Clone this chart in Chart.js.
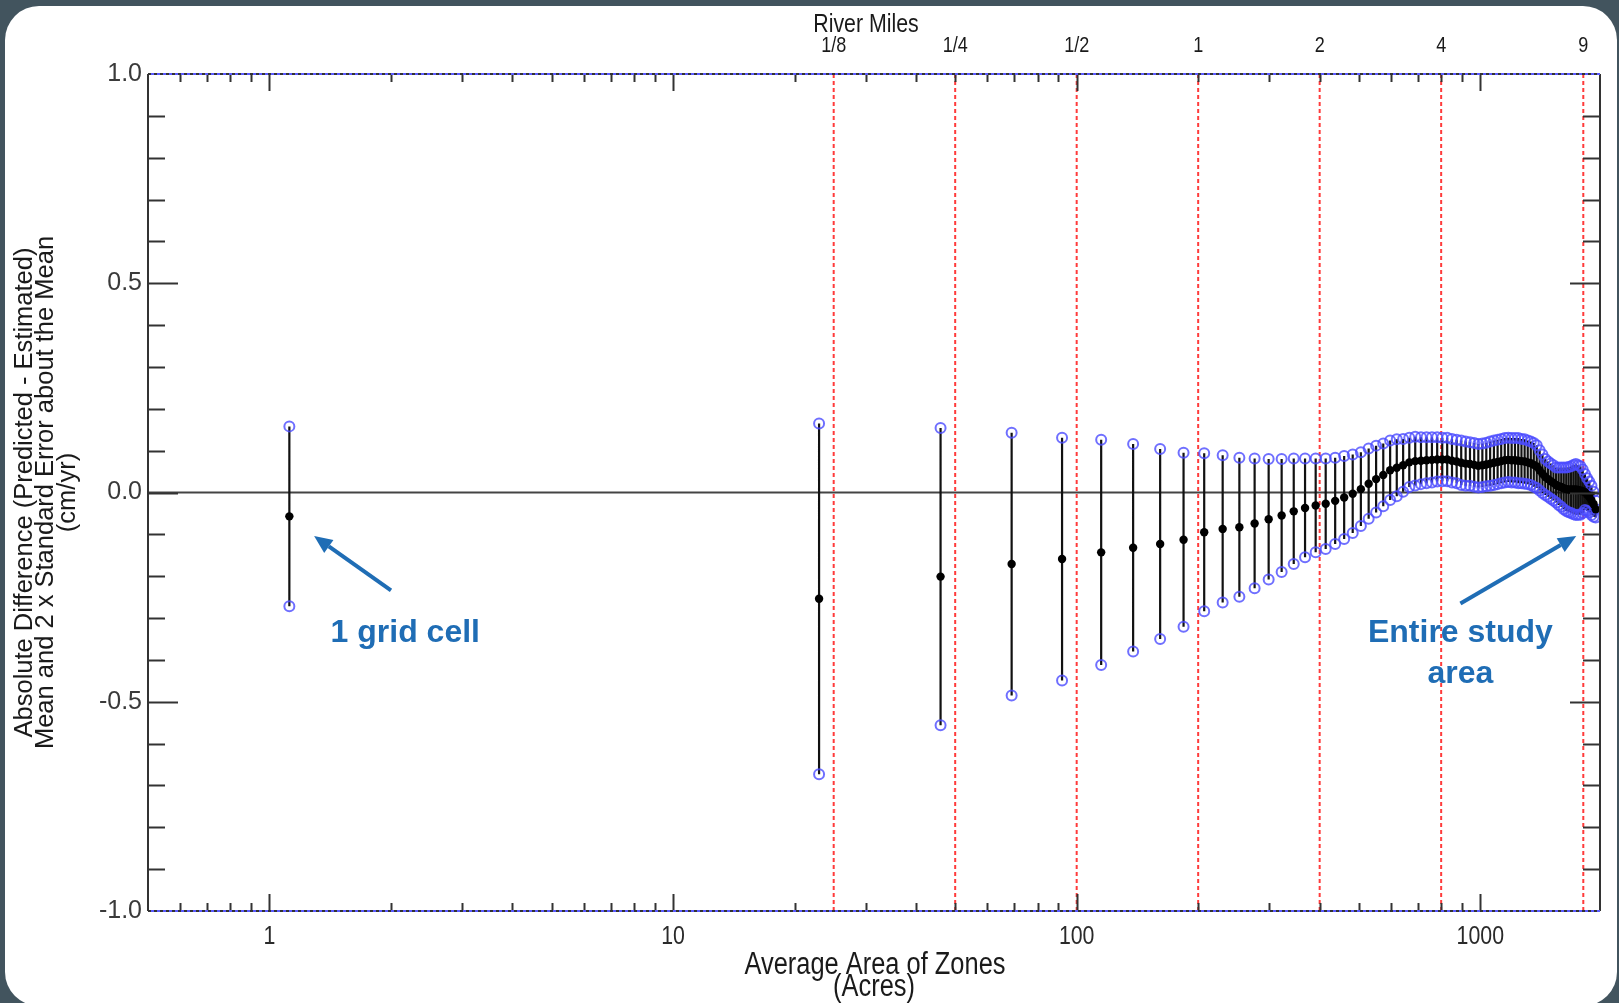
<!DOCTYPE html>
<html>
<head>
<meta charset="utf-8">
<script src="https://cdn.jsdelivr.net/npm/chart.js@4.4.1/dist/chart.umd.min.js"></script>
<style>
  html, body { margin: 0; padding: 0; width: 1619px; height: 1003px; overflow: hidden; background: #42545e; }
  #panel { position: absolute; left: 5px; top: 6px; width: 1612px; height: 1000px; background: #fff; border-radius: 34px; }
  #c { position: absolute; left: 0; top: 0; }
</style>
</head>
<body>
<div id="panel"></div>
<canvas id="c" width="1619" height="1003"></canvas>
<script>
// --- Data ---

// average zone area (acres); first entry is the single grid cell
const zoneAcres = [
  1.12, 23, 46, 69, 92, 115, 138, 161, 184, 207, 230, 253, 276, 299, 322, 345, 368, 391, 414, 437,
  460, 483, 506, 529, 552, 575, 598, 621, 644, 667, 690, 713, 736, 759, 782, 805, 828, 851, 874, 897,
  920, 943, 966, 989, 1012, 1035, 1058, 1081, 1104, 1127, 1150, 1173, 1196, 1219, 1242, 1265, 1288, 1311, 1334, 1357,
  1380, 1403, 1426, 1449, 1472, 1495, 1518, 1541, 1564, 1587, 1610, 1633, 1656, 1679, 1702, 1725, 1748, 1771, 1794, 1817,
  1840, 1863, 1886, 1909, 1932
];

// mean absolute difference (cm/yr)
const meanDiff = [
  -0.057, -0.254, -0.201, -0.171, -0.159, -0.143, -0.132, -0.123, -0.113, -0.095, -0.087, -0.083, -0.074, -0.064, -0.055, -0.045, -0.037, -0.031, -0.027, -0.020,
  -0.012, -0.003, 0.008, 0.021, 0.032, 0.042, 0.053, 0.059, 0.065, 0.072, 0.075, 0.076, 0.077, 0.078, 0.079, 0.079, 0.079, 0.076, 0.074, 0.071,
  0.069, 0.068, 0.066, 0.064, 0.065, 0.067, 0.069, 0.071, 0.073, 0.075, 0.077, 0.078, 0.077, 0.077, 0.076, 0.075, 0.074, 0.072, 0.070, 0.066,
  0.062, 0.053, 0.045, 0.037, 0.032, 0.027, 0.023, 0.018, 0.015, 0.013, 0.010, 0.008, 0.007, 0.007, 0.007, 0.007, 0.006, 0.005, 0.003, 0.001,
  -0.005, -0.011, -0.019, -0.028, -0.040
];

// 2 x standard error about the mean
const twoSE = [
  0.215, 0.419, 0.355, 0.314, 0.290, 0.269, 0.248, 0.227, 0.208, 0.189, 0.176, 0.166, 0.155, 0.144, 0.135, 0.126, 0.118, 0.112, 0.108, 0.103,
  0.099, 0.094, 0.088, 0.084, 0.080, 0.075, 0.071, 0.068, 0.063, 0.059, 0.058, 0.056, 0.055, 0.054, 0.053, 0.052, 0.052, 0.052, 0.052, 0.053,
  0.053, 0.052, 0.052, 0.052, 0.052, 0.052, 0.053, 0.053, 0.053, 0.053, 0.053, 0.053, 0.053, 0.053, 0.054, 0.053, 0.053, 0.052, 0.052, 0.052,
  0.051, 0.048, 0.046, 0.043, 0.042, 0.042, 0.042, 0.042, 0.045, 0.047, 0.050, 0.052, 0.054, 0.056, 0.059, 0.061, 0.059, 0.058, 0.052, 0.043,
  0.039, 0.037, 0.035, 0.030, 0.020
];

// river-mile reference lines (top axis)
const mileLabels = ['1/8', '1/4', '1/2', '1', '2', '4', '9'];
const mileAcres = [25, 50, 100, 200, 400, 800, 1800];

// axis ticks
const xLabelValues = [1, 10, 100, 1000];
const xTickLabels = ['1', '10', '100', '1000'];
const xTickMarks = [0.6, 0.7, 0.8, 0.9, 1, 2, 3, 4, 5, 6, 7, 8, 9, 10, 20, 30, 40, 50, 60, 70, 80, 90,
  100, 200, 300, 400, 500, 600, 700, 800, 900, 1000];
const yLabelValues = [-1, -0.5, 0, 0.5, 1];
const yTickMarks = [-0.9, -0.8, -0.7, -0.6, -0.5, -0.4, -0.3, -0.2, -0.1, 0, 0.1, 0.2, 0.3, 0.4, 0.5, 0.6, 0.7, 0.8, 0.9];

const X_MIN = 0.5, X_MAX = 1980, Y_MIN = -1, Y_MAX = 1;

const REGULAR = "'Liberation Sans', Arial, sans-serif";
const NOTE_BLUE = '#1f6db5';

// --- Build point lists ---
const meanPoints = zoneAcres.map((x, i) => ({ x, y: meanDiff[i] }));
const upperPoints = zoneAcres.map((x, i) => ({ x, y: meanDiff[i] + twoSE[i] }));
const lowerPoints = zoneAcres.map((x, i) => ({ x, y: meanDiff[i] - twoSE[i] }));

// error bars as broken line segments (null breaks the line)
const barSegments = [];
zoneAcres.forEach((x, i) => {
  barSegments.push({ x, y: meanDiff[i] - twoSE[i] }, { x, y: meanDiff[i] + twoSE[i] }, { x, y: null });
});

const mileSegments = [];
mileAcres.forEach(x => {
  mileSegments.push({ x, y: Y_MIN }, { x, y: Y_MAX }, { x, y: null });
});

const zeroLine = [{ x: X_MIN, y: 0 }, { x: X_MAX, y: 0 }];

// Annotations anchored in data units
const notes = [
  { lines: ['1 grid cell'], at: [2.17, -0.337], tail: [2.0, -0.234], tip: [1.29, -0.104] },
  { lines: ['Entire study', 'area'], at: [893, -0.337], tail: [893, -0.265], tip: [1729, -0.104] }
];

// narrow (Arial Narrow-like) text: Liberation Sans squeezed horizontally
function narrowText(ctx, text, x, y, size, color) {
  ctx.save();
  ctx.font = size + 'px ' + REGULAR;
  ctx.fillStyle = color;
  ctx.textAlign = 'center';
  ctx.textBaseline = 'middle';
  ctx.translate(x, y);
  ctx.scale(0.82, 1);
  ctx.fillText(text, 0, 0);
  ctx.restore();
}

// --- Plugins ---
// IDL-style frame: inward ticks on all four sides
const framePlugin = {
  id: 'frame',
  afterDatasetsDraw(chart) {
    const { ctx, chartArea: a, scales } = chart;
    const x = scales.x, y = scales.y;
    ctx.save();
    ctx.lineWidth = 2;
    ctx.strokeStyle = '#333';
    const seg = (x1, y1, x2, y2) => { ctx.beginPath(); ctx.moveTo(x1, y1); ctx.lineTo(x2, y2); ctx.stroke(); };

    xTickMarks.forEach(v => {
      const px = Math.round(x.getPixelForValue(v)) + 0.5;
      const len = xLabelValues.includes(v) ? 17 : 8;
      seg(px, a.bottom, px, a.bottom - len);
      seg(px, a.top, px, a.top + len);
    });
    yTickMarks.forEach(v => {
      const py = Math.round(y.getPixelForValue(v)) + 0.5;
      const len = yLabelValues.includes(v) ? 30 : 17;
      seg(a.left, py, a.left + len, py);
      seg(a.right, py, a.right - len, py);
    });

    // left / right axis lines
    seg(a.left, a.top, a.left, a.bottom);
    seg(a.right, a.top, a.right, a.bottom);

    // top / bottom: blue line with black dashes
    ctx.strokeStyle = '#5a5aff';
    seg(a.left, a.top, a.right, a.top);
    seg(a.left, a.bottom, a.right, a.bottom);
    ctx.strokeStyle = '#333';
    ctx.setLineDash([3, 3]);
    seg(a.left, a.top, a.right, a.top);
    seg(a.left, a.bottom, a.right, a.bottom);
    ctx.restore();
  }
};

// horizontal-axis labels and titles in narrow type, placed from the scales
const axisTextPlugin = {
  id: 'axisText',
  afterDraw(chart) {
    const { ctx, chartArea: a, scales: { x, x2 } } = chart;
    const mid = (a.left + a.right) / 2;
    x.ticks.forEach((t, i) => narrowText(ctx, xTickLabels[i], x.getPixelForValue(t.value), a.bottom + 26, 26, '#2a2a2a'));
    x2.ticks.forEach((t, i) => narrowText(ctx, mileLabels[i], x2.getPixelForValue(t.value), a.top - 28, 22, '#1a1a1a'));
    narrowText(ctx, 'River Miles', mid - 8, a.top - 49, 26, '#1a1a1a');
    narrowText(ctx, 'Average Area of Zones', mid + 1, a.bottom + 54, 31, '#1a1a1a');
    narrowText(ctx, '(Acres)', mid, a.bottom + 76, 31, '#1a1a1a');
  }
};

const notesPlugin = {
  id: 'notes',
  afterDraw(chart) {
    const { ctx, scales: { x, y } } = chart;
    ctx.save();
    ctx.fillStyle = NOTE_BLUE;
    ctx.strokeStyle = NOTE_BLUE;
    ctx.lineWidth = 4;
    notes.forEach(n => {
      const tx = x.getPixelForValue(n.tail[0]), ty = y.getPixelForValue(n.tail[1]);
      const hx = x.getPixelForValue(n.tip[0]), hy = y.getPixelForValue(n.tip[1]);
      const ang = Math.atan2(hy - ty, hx - tx);
      const headLen = 18, headW = 8;
      const bx = hx - headLen * Math.cos(ang), by = hy - headLen * Math.sin(ang);
      ctx.beginPath();
      ctx.moveTo(tx, ty);
      ctx.lineTo(bx, by);
      ctx.stroke();
      ctx.beginPath();
      ctx.moveTo(hx, hy);
      ctx.lineTo(bx + headW * Math.sin(ang), by - headW * Math.cos(ang));
      ctx.lineTo(bx - headW * Math.sin(ang), by + headW * Math.cos(ang));
      ctx.closePath();
      ctx.fill();

      ctx.font = 'bold 32px ' + REGULAR;
      ctx.textAlign = 'center';
      ctx.textBaseline = 'middle';
      const cx = x.getPixelForValue(n.at[0]), cy = y.getPixelForValue(n.at[1]);
      n.lines.forEach((t, i) => ctx.fillText(t, cx, cy + i * 41));
    });
    ctx.restore();
  }
};

// --- Chart ---
new Chart(document.getElementById('c'), {
  type: 'scatter',
  data: {
    datasets: [
      { label: 'Mean', data: meanPoints, showLine: false, pointRadius: 4.2, pointBorderWidth: 0,
        pointBackgroundColor: '#000', order: 1 },
      { label: 'Mean + 2SE', data: upperPoints, showLine: false, pointRadius: 5, pointBorderWidth: 2,
        pointBackgroundColor: 'rgba(0,0,0,0)', pointBorderColor: 'rgba(75,75,255,0.8)', order: 2 },
      { label: 'Mean - 2SE', data: lowerPoints, showLine: false, pointRadius: 5, pointBorderWidth: 2,
        pointBackgroundColor: 'rgba(0,0,0,0)', pointBorderColor: 'rgba(75,75,255,0.8)', order: 2 },
      { label: 'bars', data: barSegments, showLine: true, spanGaps: false, pointRadius: 0,
        borderColor: '#111', borderWidth: 2.2, order: 3 },
      { label: 'zero', data: zeroLine, showLine: true, pointRadius: 0, borderColor: '#444', borderWidth: 2, order: 4 },
      { label: 'miles', data: mileSegments, showLine: true, spanGaps: false, pointRadius: 0,
        borderColor: '#ff3b3b', borderWidth: 2, borderDash: [4, 3], order: 5 }
    ]
  },
  options: {
    responsive: false,
    animation: false,
    devicePixelRatio: 1,
    layout: { padding: { left: 0, right: 19, top: 0, bottom: 0 } },
    plugins: { legend: { display: false }, tooltip: { enabled: false } },
    scales: {
      x: {
        type: 'logarithmic', position: 'bottom', min: X_MIN, max: X_MAX,
        afterBuildTicks: s => { s.ticks = xLabelValues.map(v => ({ value: v })); },
        afterFit: s => { s.height = 92; },
        grid: { display: false, drawTicks: false },
        border: { display: false },
        ticks: { display: false, autoSkip: false },
        title: { display: false }
      },
      x2: {
        type: 'logarithmic', position: 'top', min: X_MIN, max: X_MAX,
        afterBuildTicks: s => { s.ticks = mileAcres.map(v => ({ value: v })); },
        afterFit: s => { s.height = 74; },
        grid: { display: false, drawTicks: false },
        border: { display: false },
        ticks: { display: false, autoSkip: false },
        title: { display: false }
      },
      y: {
        type: 'linear', position: 'left', min: Y_MIN, max: Y_MAX,
        afterBuildTicks: s => { s.ticks = yLabelValues.map(v => ({ value: v })); },
        afterFit: s => { s.width = 148; },
        grid: { display: false, drawTicks: false },
        border: { display: false },
        ticks: {
          padding: 6, color: '#3a3a3a',
          font: { family: REGULAR, size: 25, lineHeight: 1 },
          callback: v => v.toFixed(1)
        },
        title: {
          display: true, color: '#1a1a1a',
          text: ['Absolute Difference (Predicted - Estimated)', 'Mean and 2 x Standard Error about the Mean', '(cm/yr)'],
          font: { family: REGULAR, size: 25.5, lineHeight: 0.84 }, padding: { top: 14, bottom: 0 }
        }
      }
    }
  },
  plugins: [framePlugin, axisTextPlugin, notesPlugin]
});
</script>
</body>
</html>
